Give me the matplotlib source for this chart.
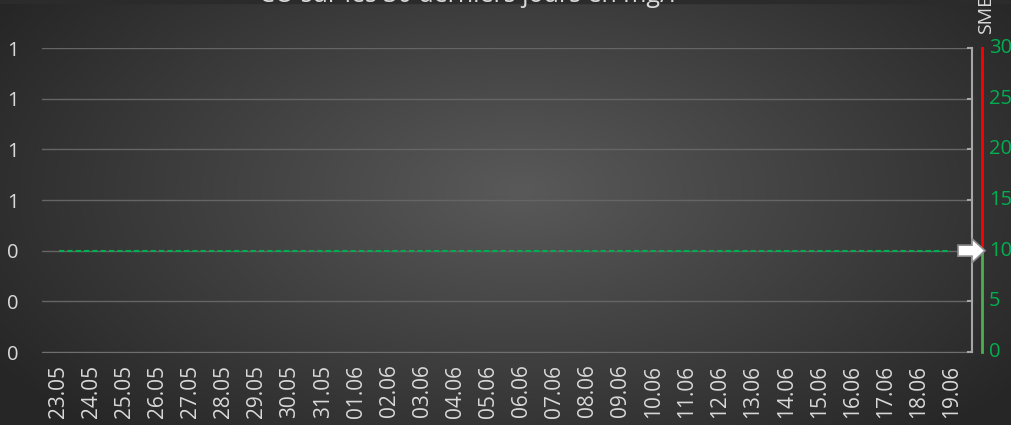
import matplotlib.pyplot as plt, numpy as np
from matplotlib.patches import Polygon
from matplotlib.ticker import FormatStrFormatter

plt.rcParams['font.family'] = ['Open Sans', 'DejaVu Sans']

# data
dates = ['23.05', '24.05', '25.05', '26.05', '27.05', '28.05', '29.05', '30.05', '31.05',
         '01.06', '02.06', '03.06', '04.06', '05.06', '06.06', '07.06', '08.06', '09.06',
         '10.06', '11.06', '12.06', '13.06', '14.06', '15.06', '16.06', '17.06', '18.06', '19.06']
left_ticks = [0, 0.2, 0.4, 0.6, 0.8, 1.0, 1.2]
threshold = [0.4] * len(dates)
gauge_ticks = [0, 5, 10, 15, 20, 25, 30]
gauge_limit = 10
gauge_max = 30
title = "CO sur les 30 derniers jours en mg/l"

W, H = 1012, 425
fig = plt.figure(figsize=(W / 100, H / 100), dpi=100)

# radial background
bg = fig.add_axes([0, 0, 1, 1], zorder=-10)
yy, xx = np.mgrid[0:H, 0:W]
r = np.sqrt(((xx - 520) / 620.0) ** 2 + ((yy - 190) / 330.0) ** 2)
val = np.clip(0.35 - 0.20 * r, 0.15, 0.36)
bg.imshow(np.dstack([val, val, val]), extent=[0, 1, 0, 1], aspect='auto', origin='upper')
bg.axhspan(1 - 3 / H, 1, color='#2b2b2b')
bg.set_xlim(0, 1); bg.set_ylim(0, 1)
bg.axis('off')

x0, x1 = 42, 968
ytop, ybot = 48, 352
ax = fig.add_axes([x0 / W, (H - ybot) / H, (x1 - x0) / W, (ybot - ytop) / H])
ax.patch.set_alpha(0)
x = np.arange(len(dates))
ax.plot(x, threshold, color='#00b050', lw=1.5, ls=(0, (2.5, 1.5)))
ax.set_xlim(-0.5, len(dates) - 0.5)
ax.set_ylim(left_ticks[0], left_ticks[-1])
ax.set_yticks(left_ticks)
ax.yaxis.set_major_formatter(FormatStrFormatter('%.0f'))
ax.set_xticks(x)
ax.set_xticklabels(dates, rotation=90)
ax.grid(axis='y', color='#656565', lw=1)
ax.set_axisbelow(True)
for s in ['top', 'right', 'left']:
    ax.spines[s].set_visible(False)
ax.spines['bottom'].set_color('#6e6e6e')
ax.tick_params(axis='both', length=0, colors='#d9d9d9')
ax.tick_params(axis='x', pad=9, labelsize=15)
ax.tick_params(axis='y', pad=17, labelsize=14.5)

# gauge on the right
gx0 = x1
gw = W - x1
g = fig.add_axes([gx0 / W, (H - ybot) / H, gw / W, (ybot - ytop) / H])
g.set_xlim(0, gw)
g.set_ylim(0, gauge_max)
g.axis('off')
g.plot([4, 4], [0, gauge_max], color='#a6a6a6', lw=1.5, clip_on=False)
for t in gauge_ticks:
    g.plot([0.5, 4], [t, t], color='#a6a6a6', lw=1.5, clip_on=False)
    g.text(21, t, str(t), color='#00b050', fontsize=14.5, va='center', ha='left', clip_on=False)
g.plot([14, 14], [gauge_limit, gauge_max], color='#ff0000', lw=2, clip_on=False)
g.plot([14, 14], [0, gauge_limit], color='#4caf50', lw=2, clip_on=False)
py = gauge_max / (ybot - ytop)  # data units per pixel
arrow = [(-10, gauge_limit + 5.5 * py), (4, gauge_limit + 5.5 * py), (4, gauge_limit + 12 * py),
         (17, gauge_limit), (4, gauge_limit - 12 * py), (4, gauge_limit - 5.5 * py),
         (-10, gauge_limit - 5.5 * py)]
g.add_patch(Polygon(arrow, closed=True, facecolor='white', edgecolor='#8c8c8c', lw=1.2,
                    clip_on=False, zorder=5))

fig.text(986 / W, 1 - 34 / H, "SMEV", rotation=90, color='#d9d9d9', fontsize=14,
         ha='center', va='bottom')
fig.text(467 / W, 1 - 2 / H, title, color='#d9d9d9', fontsize=18, ha='center',
         va='baseline')

fig.savefig('out.png', dpi=100)
